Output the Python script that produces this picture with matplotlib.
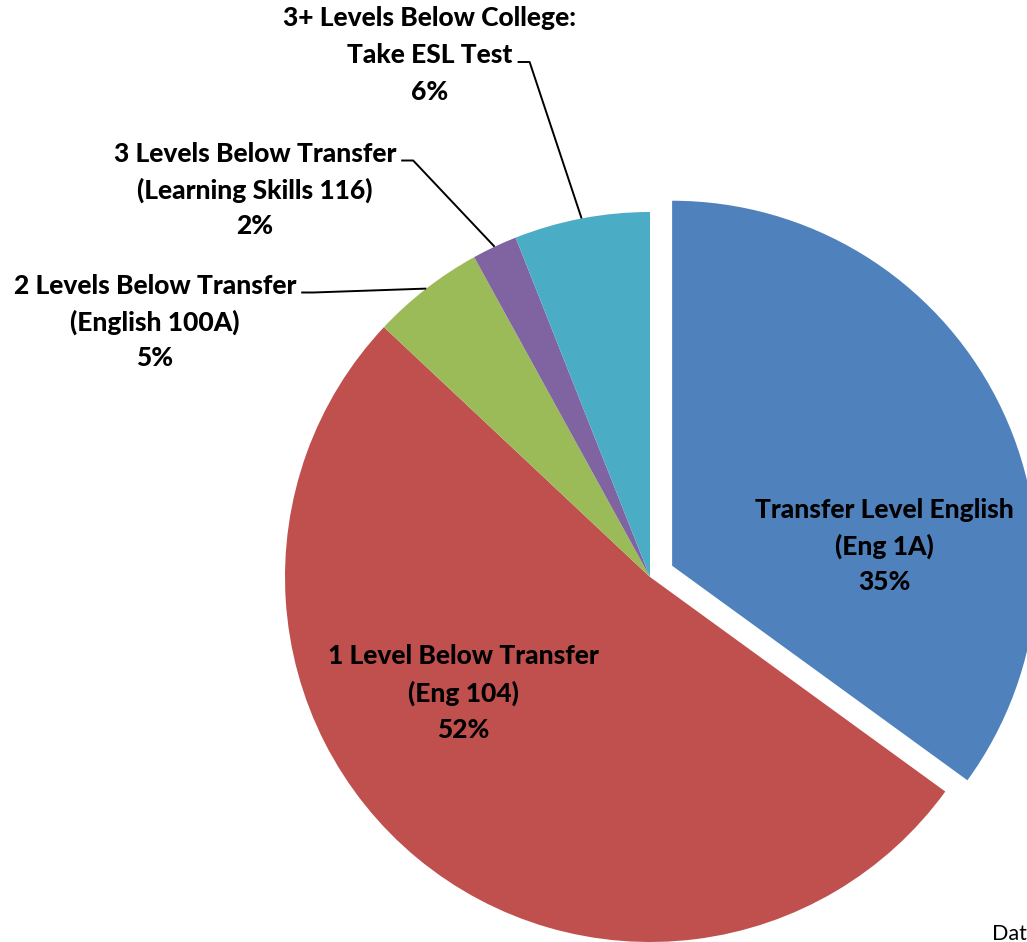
import matplotlib

matplotlib.use("Agg")
import matplotlib.pyplot as plt
import numpy as np

# --- data -------------------------------------------------------------
first_lines = [
    "Transfer Level English",
    "1 Level Below Transfer",
    "2 Levels Below Transfer",
    "3 Levels Below Transfer",
    "3+ Levels Below College:",
]
second_lines = ["(Eng 1A)", "(Eng 104)", "(English 100A)",
                "(Learning Skills 116)", "Take ESL Test"]
shares = [35, 52, 5, 2, 6]

# --- style / layout ---------------------------------------------------
colors = ["#4F81BD", "#C0504D", "#9BBB59", "#8064A2", "#4BACC6"]
explode = [0.068, 0, 0, 0, 0]

W, H = 1027, 942
CX, CY, R = 650, 577, 365          # pie centre and radius, pixels
LINE_H = 36.5                      # label line spacing, pixels
FONT = "Lato"

# label block centre (pixels) and which line the leader starts from
label_pos = [(884, 546), (463, 693), (155, 322), (255, 190), (430, 55)]
leader_from = [None, None, 0, 0, 1]

plt.rcParams["font.family"] = [FONT, "DejaVu Sans"]

fig = plt.figure(figsize=(W / 100, H / 100), dpi=100)
ax = fig.add_axes([0, 0, 1, 1])
wedges, _ = ax.pie(shares, colors=colors, explode=explode, startangle=90,
                   counterclock=False, radius=1,
                   wedgeprops=dict(linewidth=0))
ax.set_xlim(-CX / R, (W - CX) / R)
ax.set_ylim(-(H - CY) / R, CY / R)
ax.set_aspect("auto")
ax.axis("off")


def px(x, y):
    return (x - CX) / R, (CY - y) / R


# draw labels line by line so the leader can start at a given line
label_lines = []
for i, share in enumerate(shares):
    cx, cy = label_pos[i]
    texts = []
    for k, s in enumerate([first_lines[i], second_lines[i], f"{share}%"]):
        x, y = px(cx, cy + (k - 1) * LINE_H)
        texts.append(ax.text(x, y, s, ha="center", va="center",
                             fontsize=19, fontweight="black", color="black"))
    label_lines.append(texts)

fig.canvas.draw()
inv = ax.transData.inverted()
for i, w in enumerate(wedges):
    k = leader_from[i]
    if k is None:
        continue
    bb = label_lines[i][k].get_window_extent()
    # start a little right of the line, slightly under its middle
    sx, sy = inv.transform((bb.x1 + 5, (bb.y0 + bb.y1) / 2 - 7))
    ex = sx + 12 / R
    mid = np.deg2rad((w.theta1 + w.theta2) / 2)
    c = w.center
    tx, ty = c[0] + w.r * np.cos(mid), c[1] + w.r * np.sin(mid)
    ax.plot([sx, ex, tx], [sy, sy, ty], color="black", lw=1.4,
            solid_capstyle="butt")

# source note, cut off by the right edge as in the original
fig.text(992 / W, 1 - 940 / H, "Data Source", fontsize=15.5,
         ha="left", va="baseline", color="black")

fig.savefig("out.png", dpi=100)
